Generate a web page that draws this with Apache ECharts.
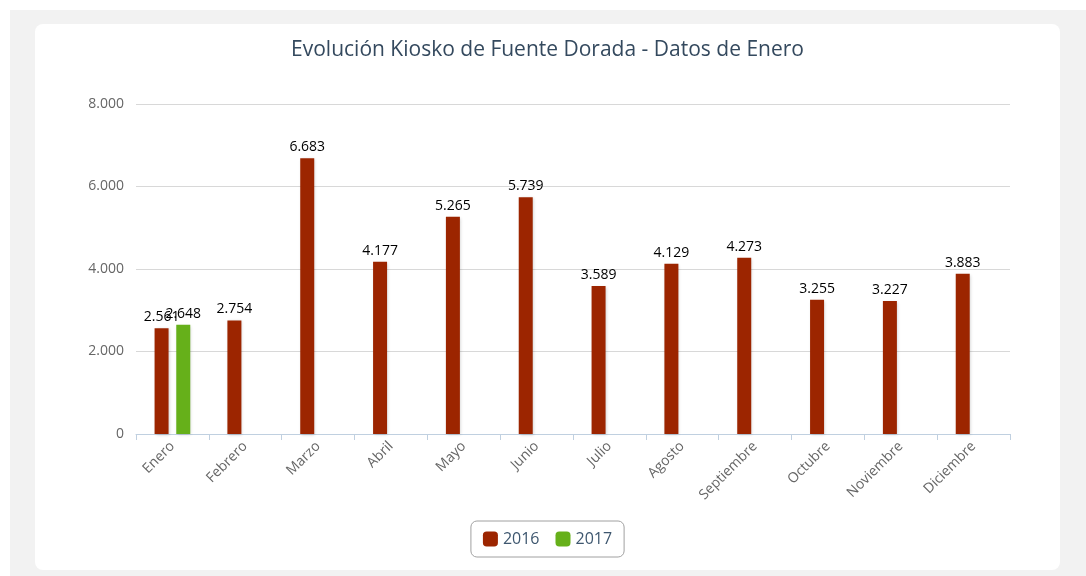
<!DOCTYPE html>
<html>
<head>
<meta charset="utf-8">
<script src="https://cdn.jsdelivr.net/npm/echarts@6/dist/echarts.min.js"></script>
<style>
  html, body { margin: 0; padding: 0; width: 1086px; height: 576px; background: #fff; overflow: hidden; }
  #bg { position: absolute; left: 10px; top: 10px; width: 1076px; height: 566px; background: #f2f2f2; }
  #chart { position: absolute; left: 35px; top: 24px; width: 1025px; height: 546px; background: #fff; border-radius: 8px; }
</style>
</head>
<body>
<div id="bg"></div>
<div id="chart"></div>
<script>
// datos
var meses = ['Enero', 'Febrero', 'Marzo', 'Abril', 'Mayo', 'Junio', 'Julio', 'Agosto', 'Septiembre', 'Octubre', 'Noviembre', 'Diciembre'];
var datos2016 = [2561, 2754, 6683, 4177, 5265, 5739, 3589, 4129, 4273, 3255, 3227, 3883];
var datos2017 = [2648, null, null, null, null, null, null, null, null, null, null, null];

function miles(v) {
    return String(v).replace(/\B(?=(\d{3})+(?!\d))/g, '.');
}

var myChart = echarts.init(document.getElementById('chart'));

var sombra = {
    shadowColor: 'rgba(0,0,0,0.18)',
    shadowBlur: 3,
    shadowOffsetX: 1,
    shadowOffsetY: 1
};

var etiqueta = {
    show: true,
    position: 'top',
    distance: 4,
    color: '#000',
    fontSize: 14,
    fontFamily: 'Open Sans',
    formatter: function (p) { return miles(p.value); }
};

var option = {
    textStyle: { fontFamily: 'Open Sans' },
    title: {
        text: 'Evolución Kiosko de Fuente Dorada - Datos de Enero',
        left: 'center',
        top: 11,
        textStyle: { fontSize: 21, fontWeight: 'normal', color: '#34495e', fontFamily: 'Open Sans' }
    },
    legend: {
        data: ['2016', '2017'],
        bottom: 13,
        left: 'center',
        itemWidth: 15,
        itemHeight: 15,
        itemGap: 16,
        padding: [10, 12],
        borderColor: '#a0a0a0',
        borderWidth: 1,
        borderRadius: 6,
        textStyle: { fontSize: 16, color: '#3E576F' },
        itemStyle: { borderRadius: 2 }
    },
    grid: { left: 101, right: 50, top: 80, bottom: 136 },
    xAxis: {
        type: 'category',
        data: meses,
        axisLine: { lineStyle: { color: '#C0D0E0' } },
        axisTick: { show: true, length: 6, lineStyle: { color: '#C0D0E0' } },
        axisLabel: { rotate: 45, color: '#666', fontSize: 14, margin: 10 }
    },
    yAxis: {
        type: 'value',
        min: 0,
        max: 8000,
        interval: 2000,
        axisLine: { show: false },
        axisTick: { show: false },
        splitLine: { lineStyle: { color: '#d8d8d8' } },
        axisLabel: { color: '#666', fontSize: 14, margin: 12, formatter: miles }
    },
    series: [
        {
            name: '2016',
            type: 'bar',
            data: datos2016,
            barWidth: 14,
            barGap: '55%',
            itemStyle: Object.assign({ color: '#9c2500' }, sombra),
            label: etiqueta
        },
        {
            name: '2017',
            type: 'bar',
            data: datos2017,
            barWidth: 14,
            itemStyle: Object.assign({ color: '#66b01a' }, sombra),
            label: etiqueta
        }
    ]
};

myChart.setOption(option);
</script>
</body>
</html>
